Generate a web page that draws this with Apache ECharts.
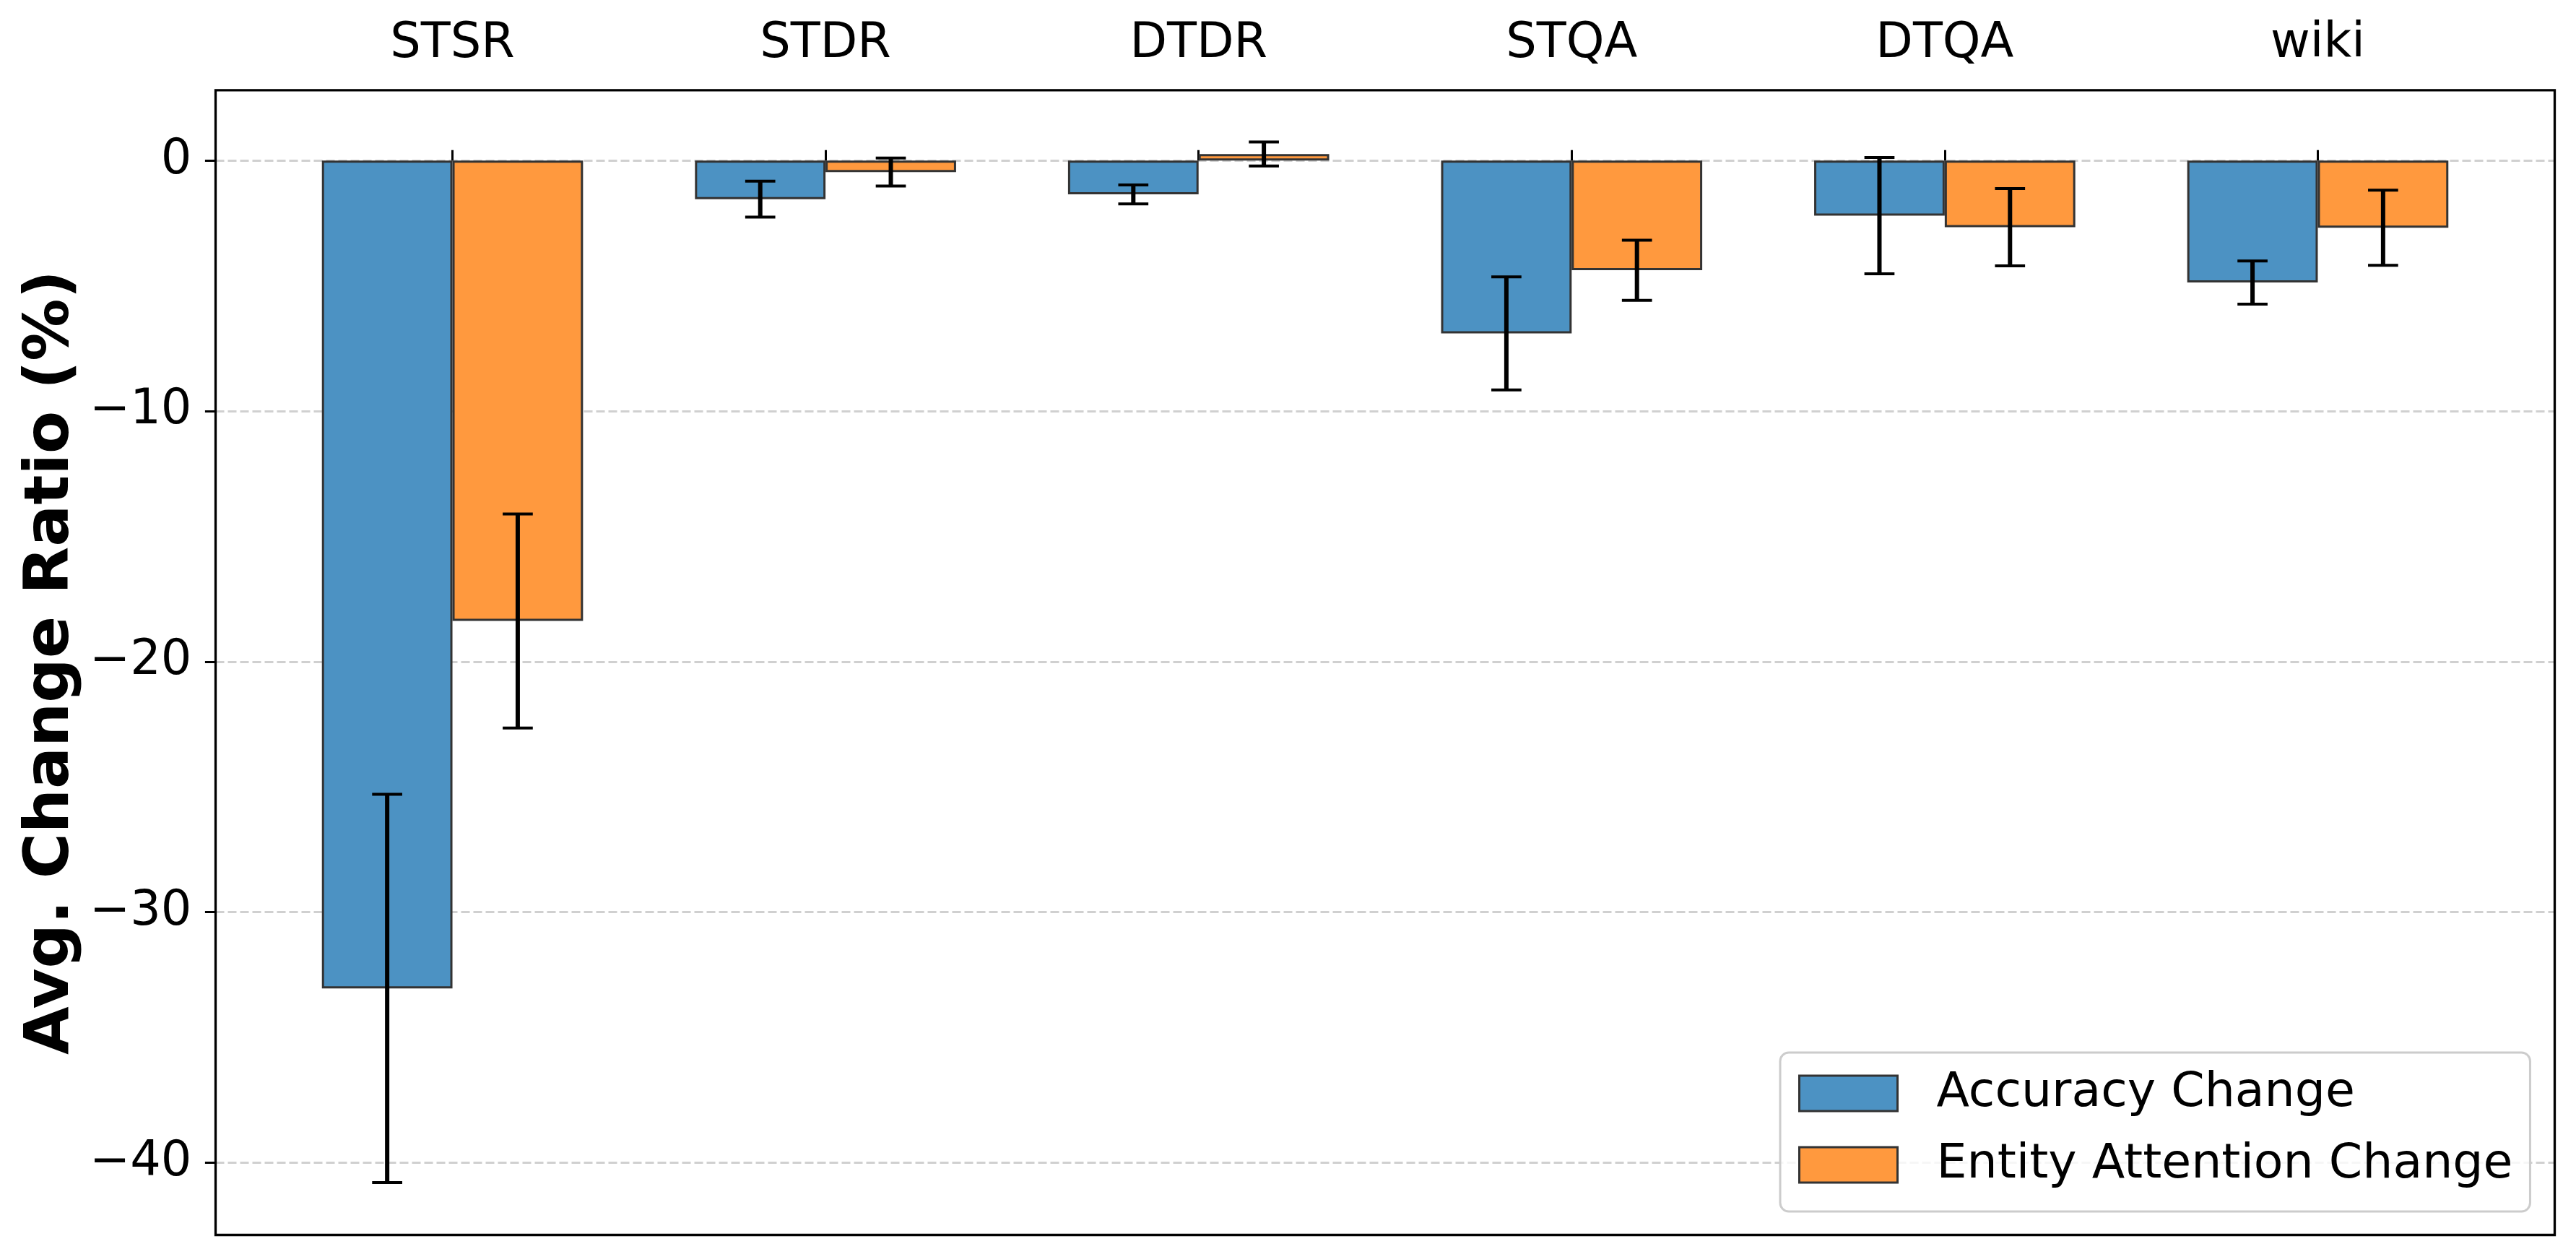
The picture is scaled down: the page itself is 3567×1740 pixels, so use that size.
<!DOCTYPE html>
<html>
<head>
<meta charset="utf-8">
<script src="https://cdn.jsdelivr.net/npm/echarts@6/dist/echarts.min.js"></script>
<style>
html,body{margin:0;padding:0;background:#fff;}
#chart{width:3567px;height:1740px;}
</style>
</head>
<body>
<div id="chart"></div>
<script>
// ---- data ----
const categories = ['STSR', 'STDR', 'DTDR', 'STQA', 'DTQA', 'wiki'];
const accuracyChange = [-33.05, -1.54, -1.35, -6.90, -2.20, -4.87];
const attentionChange = [-18.38, -0.46, 0.26, -4.38, -2.66, -2.68];
const accuracyErr = [7.75, 0.72, 0.38, 2.26, 2.32, 0.86];
const attentionErr = [4.27, 0.56, 0.48, 1.20, 1.54, 1.50];
const yTicksMin = -40, yTicksMax = 0, yTickStep = 10;
const yLimMin = -42.89, yLimMax = 2.81;
const seriesNames = ['Accuracy Change', 'Entity Attention Change'];

// ---- layout ----
const FONT = 'DejaVu Sans';
const frameL = 298.5, frameT = 124.8, frameR = 3537.5, frameB = 1709.5;
const frameW = frameR - frameL, frameH = frameB - frameT;
const xLimMin = -0.635, xLimMax = 5.635;          // data-space x limits of frame
const pxPerCat = frameW / (xLimMax - xLimMin);
const catLeft = frameL + (-0.5 - xLimMin) * pxPerCat;
const catWidth = categories.length * pxPerCat;
const pxPerY = frameH / (yLimMax - yLimMin);
const tickGridTop = frameT + (yLimMax - yTicksMax) * pxPerY;
const tickGridH = (yTicksMax - yTicksMin) * pxPerY;
const barW = 0.35 * pxPerCat;

const blue = '#4c92c3', orange = '#ff993e', edge = '#333333';

const errData = [];
accuracyChange.forEach((v, i) => errData.push([i, v, accuracyErr[i], 0]));
attentionChange.forEach((v, i) => errData.push([i, v, attentionErr[i], 1]));

const chart = echarts.init(document.getElementById('chart'), null, {renderer: 'canvas'});
chart.setOption({
  backgroundColor: '#ffffff',
  animation: false,
  textStyle: {fontFamily: FONT, color: '#000'},
  grid: [
    {left: catLeft, top: frameT, width: catWidth, height: frameH, containLabel: false},
    {left: frameL, top: frameT, width: frameW, height: frameH, show: true,
     borderColor: '#000', borderWidth: 3.3, backgroundColor: 'transparent', z: 3},
    {left: frameL, top: tickGridTop, width: frameW, height: tickGridH}
  ],
  xAxis: [
    {type: 'category', gridIndex: 0, data: categories, position: 'top',
     axisLine: {show: false},
     axisTick: {show: true, alignWithLabel: true, length: 14.6, lineStyle: {color: '#000', width: 3}},
     axisLabel: {fontFamily: FONT, fontSize: 67, color: '#000', margin: 30},
     splitLine: {show: false}},
    {type: 'value', gridIndex: 1, show: false},
    {type: 'value', gridIndex: 2, show: false}
  ],
  yAxis: [
    {type: 'value', gridIndex: 0, min: yLimMin, max: yLimMax, show: false},
    {type: 'value', gridIndex: 1, min: yLimMin, max: yLimMax,
     name: 'Avg. Change Ratio (%)', nameLocation: 'middle', nameGap: 184,
     nameTextStyle: {fontFamily: FONT, fontSize: 86, fontWeight: 'bold', color: '#000'},
     axisLine: {show: false}, axisTick: {show: false}, axisLabel: {show: false}, splitLine: {show: false}},
    {type: 'value', gridIndex: 2, min: yTicksMin, max: yTicksMax, interval: yTickStep,
     axisLine: {show: false},
     axisTick: {show: true, length: 14.6, lineStyle: {color: '#000', width: 3}},
     axisLabel: {fontFamily: FONT, fontSize: 67, color: '#000', margin: 33,
                 formatter: v => String(v).replace('-', '\u2212')},
     splitLine: {show: true, lineStyle: {color: 'rgba(176,176,176,0.6)', width: 3, type: [12, 5]}}}
  ],
  legend: {
    orient: 'vertical', left: 2465, top: 1457,
    data: seriesNames.map(n => ({name: n, icon: 'rect'})),
    itemWidth: 136, itemHeight: 49, itemGap: 32,
    padding: [23, 24, 31, 25],
    backgroundColor: 'rgba(255,255,255,0.8)',
    borderColor: '#cccccc', borderWidth: 3, borderRadius: 12,
    textStyle: {fontFamily: FONT, fontSize: 66.5, color: '#000', lineHeight: 67, padding: [0, 0, 0, 49]},
    itemStyle: {borderColor: edge, borderWidth: 3},
    z: 10
  },
  series: [
    {name: seriesNames[0], type: 'bar', xAxisIndex: 0, yAxisIndex: 0, data: accuracyChange,
     barWidth: barW, barGap: '0%',
     itemStyle: {color: blue, borderColor: edge, borderWidth: 3}},
    {name: seriesNames[1], type: 'bar', xAxisIndex: 0, yAxisIndex: 0, data: attentionChange,
     barWidth: barW, barGap: '0%',
     itemStyle: {color: orange, borderColor: edge, borderWidth: 3}},
    {type: 'custom', xAxisIndex: 0, yAxisIndex: 0, data: errData, z: 5,
     renderItem: function (params, api) {
       const idx = api.value(0), v = api.value(1), e = api.value(2), s = api.value(3);
       const band = api.size([1, 0])[0];
       const off = (s === 0 ? -0.175 : 0.175) * band;
       const top = api.coord([idx, v + e]);
       const bot = api.coord([idx, v - e]);
       const x = top[0] + off;
       const cap = 0.0807 * band / 2;
       const st = {stroke: '#000', lineWidth: 6};
       const cs = {stroke: '#000', lineWidth: 4};
       return {type: 'group', children: [
         {type: 'line', shape: {x1: x, y1: top[1], x2: x, y2: bot[1]}, style: st},
         {type: 'line', shape: {x1: x - cap, y1: top[1], x2: x + cap, y2: top[1]}, style: cs},
         {type: 'line', shape: {x1: x - cap, y1: bot[1], x2: x + cap, y2: bot[1]}, style: cs}
       ]};
     }}
  ]
});
</script>
</body>
</html>
